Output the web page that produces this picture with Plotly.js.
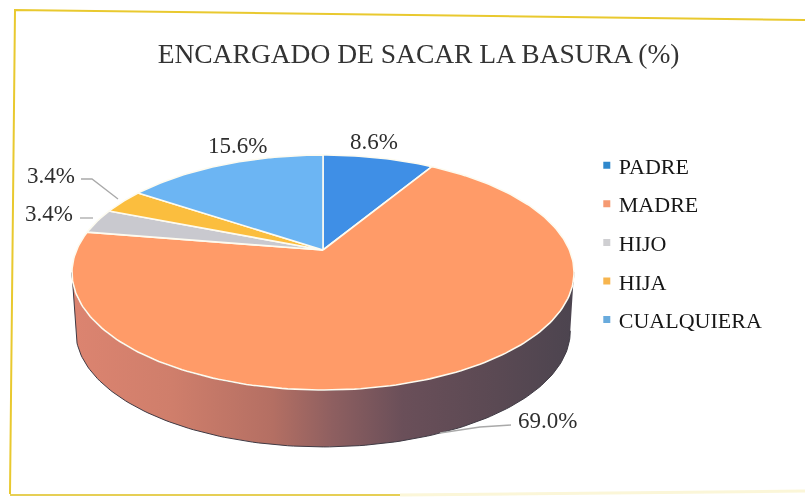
<!DOCTYPE html>
<html>
<head>
<meta charset="utf-8">
<script src="https://cdn.plot.ly/plotly-3.0.1.min.js"></script>
<style>
html,body{margin:0;padding:0;background:#fff;overflow:hidden}
#chart{width:805px;height:498px;filter:blur(0.45px)}
</style>
</head>
<body>
<div id="chart"></div>
<script>
const chartTitle = "ENCARGADO DE SACAR LA BASURA (%)";
const categories = ["PADRE", "MADRE", "HIJO", "HIJA", "CUALQUIERA"];
const shares = [8.6, 69.0, 3.4, 3.4, 15.6];
const sliceColors = ["#3F8FE6", "#FF9B68", "#C9C9CF", "#FBBE3E", "#6CB5F3"];
const legendColors = ["#2F88CC", "#F59A72", "#CFCFD2", "#F7B54E", "#69ABDD"];
const labelX = [374, 547, 49, 51, 237];
const labelY = [141, 420, 213, 175, 145];

// Perspective view of the pie disc
const cx = 323, cy = 250, A = 246.4, B = 113.2, K = 0.1915;
function project(theta, scale, drop) {
  const u = Math.sin(theta), v = Math.cos(theta), w = 1 + K * v;
  return [cx + scale * A * u / w, cy + drop - scale * B * v / w];
}
function arc(from, to, scale, drop) {
  const pts = [], n = Math.max(6, Math.ceil(Math.abs(to - from) / 0.02));
  for (let i = 0; i <= n; i++) pts.push(project(from + (to - from) * i / n, scale, drop));
  return pts;
}
const traces = [];

// side wall
const wallStart = 1.76, wallEnd = 4.52;
const wallPts = arc(wallStart, wallEnd, 1, 0).concat(arc(wallEnd, wallStart, 0.985, 59));
traces.push({
  type: "scatter", mode: "lines", showlegend: false, hoverinfo: "skip",
  x: wallPts.map(p => p[0]), y: wallPts.map(p => p[1]),
  fill: "toself", line: {color: "#3F3A44", width: 1},
  fillgradient: {type: "horizontal", start: 72, stop: 573, colorscale: [
    [0, "#DC8470"], [0.2, "#CF7E6B"], [0.4, "#B46F63"], [0.52, "#8E5F60"],
    [0.66, "#6A4F59"], [0.85, "#5A4953"], [1, "#4C444F"]]}
});

// top slices
let running = 0;
shares.forEach((s, i) => {
  const a0 = running / 100 * 2 * Math.PI, a1 = (running + s) / 100 * 2 * Math.PI;
  running += s;
  const pts = [[cx, cy]].concat(arc(a0, a1, 1, 0)).concat([[cx, cy]]);
  traces.push({
    type: "scatter", mode: "lines", showlegend: false, name: categories[i],
    x: pts.map(p => p[0]), y: pts.map(p => p[1]),
    fill: "toself", fillcolor: sliceColors[i],
    line: {color: "#FDFBF0", width: 1.6}
  });
});

// legend entries
categories.forEach((c, i) => {
  traces.push({
    type: "scatter", mode: "markers", x: [null], y: [null], name: c,
    legendgroup: c, showlegend: true,
    marker: {symbol: "square", size: 7, color: legendColors[i]}
  });
});

const serif = "Liberation Serif, Georgia, serif";
const annotations = shares.map((s, i) => ({
  xref: "x", yref: "y", x: labelX[i], y: labelY[i], showarrow: false,
  text: s.toFixed(1) + "%", font: {family: serif, size: 23, color: "#2E2E2E"}
}));

const leader = (path) => ({type: "path", path, xref: "x", yref: "y",
  line: {color: "#A9A9A9", width: 1.3}});

const layout = {
  width: 805, height: 498,
  margin: {l: 0, r: 0, t: 0, b: 0},
  paper_bgcolor: "#FFFFFF", plot_bgcolor: "rgba(0,0,0,0)",
  title: {text: chartTitle, x: 0.52, xanchor: "center", y: 0.892, yanchor: "middle",
          font: {family: serif, size: 27.5, color: "#333333"}},
  xaxis: {range: [0, 805], visible: false, fixedrange: true},
  yaxis: {range: [498, 0], visible: false, fixedrange: true},
  showlegend: true,
  legend: {x: 0.719, y: 0.71, xanchor: "left", yanchor: "top",
           bgcolor: "rgba(0,0,0,0)", tracegroupgap: 7, itemwidth: 30,
           font: {family: serif, size: 22, color: "#161616"}},
  annotations,
  shapes: [
    leader("M81,179 L92,179 L118,199"),
    leader("M80,218 L93,218"),
    leader("M511,425 L480,427 L440,433"),
    {type: "path", xref: "x", yref: "y",
     path: "M10,494 L15,10 L805,20", line: {color: "#E9C92F", width: 2}},
    {type: "line", xref: "x", yref: "y", x0: 10, y0: 495, x1: 400, y1: 495,
     line: {color: "#E6CF55", width: 2}},
    {type: "line", xref: "x", yref: "y", x0: 400, y0: 495, x1: 805, y1: 491,
     line: {color: "#FBF6D8", width: 3}}
  ]
};
Plotly.newPlot("chart", traces, layout, {displayModeBar: false, staticPlot: true}).then(() => {
  document.querySelectorAll(".legendsymbols").forEach(g => g.setAttribute("transform", "translate(8,0)"));
});
</script>
</body>
</html>
